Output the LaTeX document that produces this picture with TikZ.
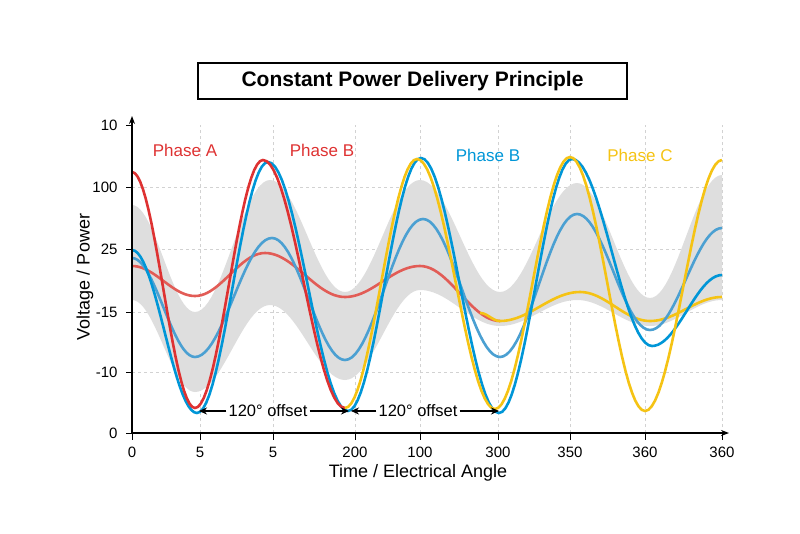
\documentclass[tikz,border=0pt]{standalone}
\usepackage{fontspec}
\setmainfont{Liberation Sans}
\usetikzlibrary{arrows.meta}
\newcommand\cs[4]{-- plot[domain=0:1,samples=24,variable=\t] ({#1+(#3-#1)*\t},{(#2+#4)/2+(#2-#4)/2*cos(180*\t)})}
\begin{document}
\begin{tikzpicture}[x=1pt,y=-1pt,
  crv/.style={line width=2.6pt,line join=round},
  grd/.style={gray!35,dashed,line width=0.5pt},
  tick/.style={font=\fontsize{15}{17}\selectfont},
  off/.style={font=\fontsize{16.5}{19}\selectfont,inner sep=2pt},
  oarr/.style={line width=1.1pt,-{Stealth[length=8pt,width=7pt]}},
  lbl/.style={font=\fontsize{17}{20}\selectfont}]
\useasboundingbox (0,0) rectangle (800,533);
\definecolor{cR}{RGB}{222,50,50}
\definecolor{cLR}{RGB}{226,92,86}
\definecolor{cB}{RGB}{0,150,215}
\definecolor{cLB}{RGB}{75,160,210}
\definecolor{cY}{RGB}{245,195,20}
\definecolor{cG}{RGB}{222,222,222}
% grid
\foreach \x in {200,273,355,420,498,570,645,722} \draw[grd] (\x,433) -- (\x,125);
\foreach \y in {187,249,312,372} \draw[grd] (132,\y) -- (722,\y);
% band
\fill[cG] (132,205) \cs{132}{205}{195}{312} \cs{195}{312}{270}{180} \cs{270}{180}{345}{292} \cs{345}{292}{420}{180} \cs{420}{180}{500}{292} \cs{500}{292}{577}{183} \cs{577}{183}{650}{298} \cs{650}{298}{722}{175}
 -- (722,300) \cs{722}{300}{650}{326} \cs{650}{326}{577}{300} \cs{577}{300}{500}{326} \cs{500}{326}{420}{290} \cs{420}{290}{345}{380} \cs{345}{380}{270}{305} \cs{270}{305}{195}{392} \cs{195}{392}{132}{300} -- cycle;
% small curves
\draw[crv,cLR] (132,266) \cs{132}{266}{195}{296} \cs{195}{296}{265}{253} \cs{265}{253}{345}{297} \cs{345}{297}{420}{266} \cs{420}{266}{500}{321};
\draw[crv,cY] (480,313) \cs{480}{313}{500}{321} \cs{500}{321}{580}{292} \cs{580}{292}{650}{321} \cs{650}{321}{722}{297};
\draw[crv,cLB] (132,258) \cs{132}{258}{195}{357} \cs{195}{357}{272}{238} \cs{272}{238}{345}{360} \cs{345}{360}{423}{219} \cs{423}{219}{500}{357} \cs{500}{357}{577}{214} \cs{577}{214}{650}{330} \cs{650}{330}{722}{228};
% big curves
\draw[crv,cB] (132,250) \cs{132}{250}{197}{413} \cs{197}{413}{268}{162} \cs{268}{162}{348}{411} \cs{348}{411}{421}{158} \cs{421}{158}{499}{413} \cs{499}{413}{572}{159} \cs{572}{159}{652}{346} \cs{652}{346}{722}{275};
\draw[crv,cR] (132,172) \cs{132}{172}{195}{408} \cs{195}{408}{263}{160} \cs{263}{160}{345}{408};
\draw[crv,cY] (345,408) \cs{345}{408}{417}{159} \cs{417}{159}{495}{409} \cs{495}{409}{570}{157} \cs{570}{157}{645}{411} \cs{645}{411}{722}{160};
% axes
\draw[line width=1.2pt,-{Stealth[length=8pt,width=6pt]}] (132,433) -- (132,116);
\draw[line width=1.2pt,-{Stealth[length=8pt,width=6pt]}] (132,433) -- (729,433);
\foreach \x/\t in {132/0,200/5,273/5,355/200,420/100,498/300,570/350,645/360,722/360} {
  \draw[line width=1pt] (\x,433) -- (\x,440);
  \node[tick] (xt\x) at (\x,452) {\t};}
\foreach \y/\t in {125/10,187/100,249/25,312/-15,372/-10,433/0} {
  \draw[line width=1pt] (126,\y) -- (132,\y);
  \node[tick,anchor=east] (yt\y) at (121,\y) {\t};}
\node[font=\fontsize{18}{21}\selectfont] (xl) at (418,473) {Time / Electrical Angle};
\node[font=\fontsize{18}{21}\selectfont,rotate=90] (yl) at (85,277) {Voltage / Power};
% title
\node[draw,line width=1.3pt,minimum width=429pt,minimum height=36pt,font=\fontsize{21}{25}\selectfont\bfseries] (title) at (412.5,81) {Constant Power Delivery Principle};
% labels
\node[lbl,text=cR] (pa) at (185,150) {Phase A};
\node[lbl,text=cR] (pb1) at (322,150) {Phase B};
\node[lbl,text=cB] (pb2) at (488,155) {Phase B};
\node[lbl,text=cY] (pc) at (640,155) {Phase C};
% offsets
\node[off] (o1) at (268,411) {120° offset};
\node[off] (o2) at (418,411) {120° offset};
\coordinate (a1) at (199,411); \coordinate (a2) at (349,411);
\coordinate (a3) at (351,411); \coordinate (a4) at (499,411);
\draw[oarr] (o1.west) -- (a1);
\draw[oarr] (o1.east) -- (a2);
\draw[oarr] (o2.west) -- (a3);
\draw[oarr] (o2.east) -- (a4);
\end{tikzpicture}
\end{document}
